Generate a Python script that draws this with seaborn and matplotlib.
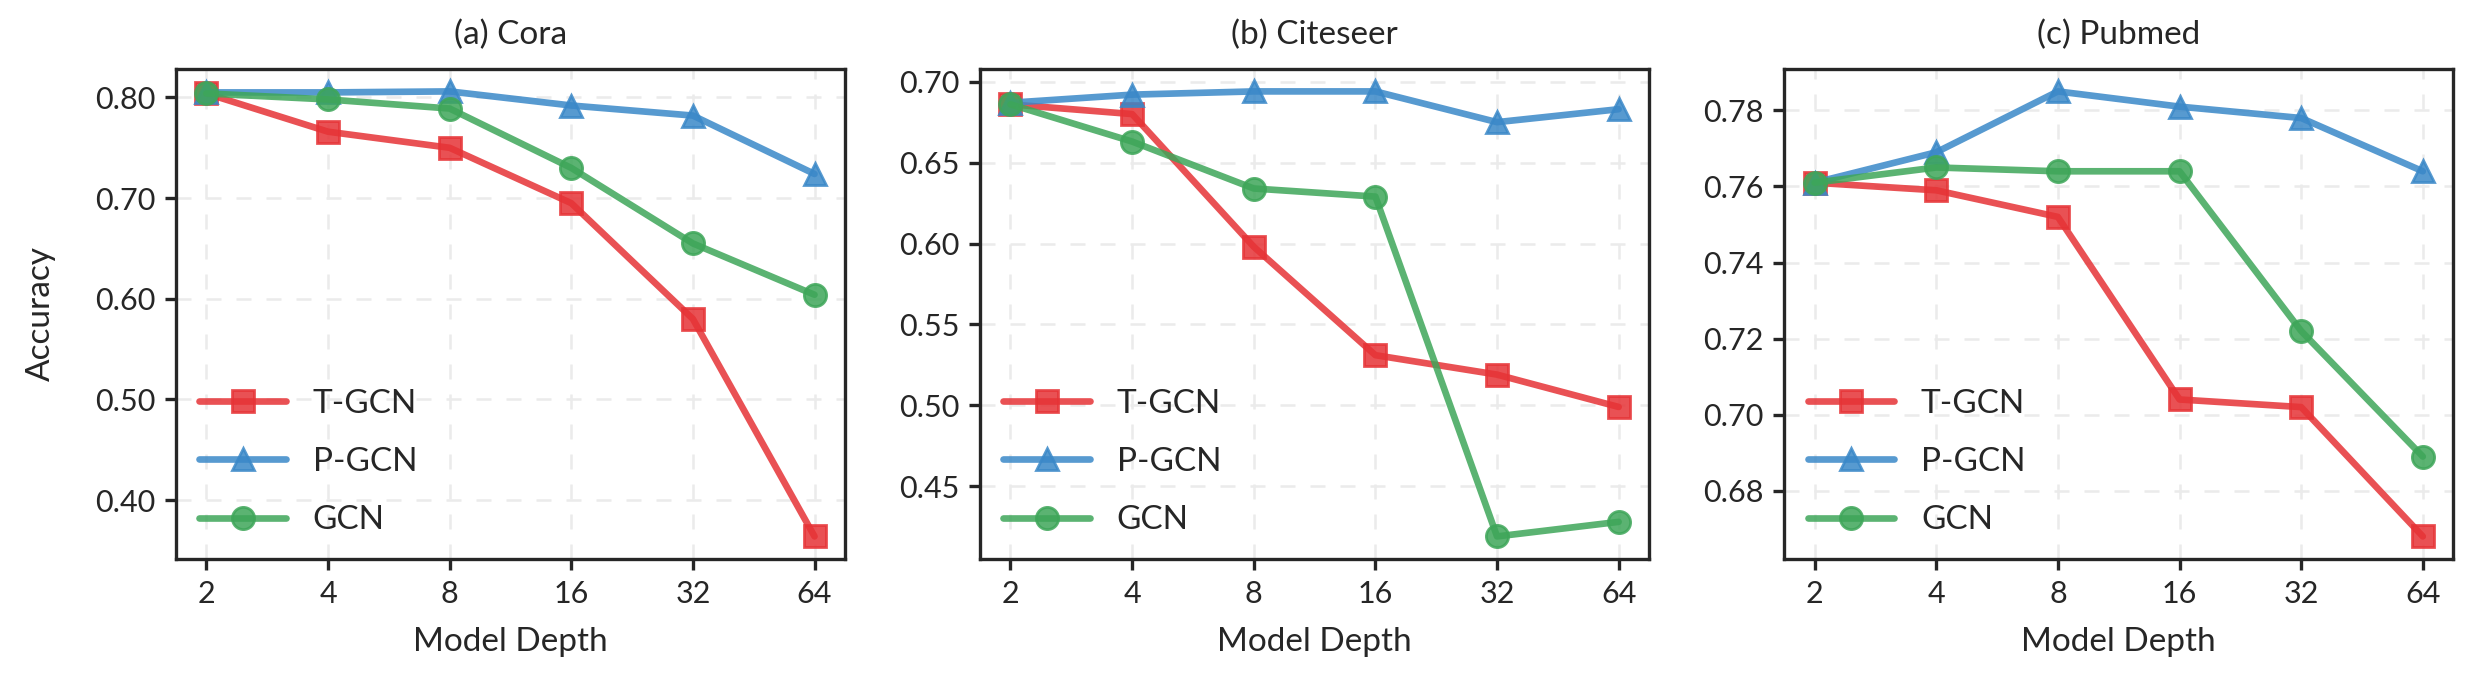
import pandas as pd
import matplotlib
matplotlib.use("Agg")
import matplotlib.pyplot as plt
import seaborn as sns

# model depths on x axis
depths = [2, 4, 8, 16, 32, 64]
methods = ["T-GCN", "P-GCN", "GCN"]

# accuracy
cora_tgcn = [0.804, 0.766, 0.750, 0.695, 0.580, 0.364]
cora_pgcn = [0.805, 0.805, 0.806, 0.792, 0.782, 0.724]
cora_gcn = [0.804, 0.798, 0.789, 0.730, 0.655, 0.604]

citeseer_tgcn = [0.686, 0.680, 0.598, 0.531, 0.519, 0.499]
citeseer_pgcn = [0.687, 0.692, 0.694, 0.694, 0.675, 0.683]
citeseer_gcn = [0.686, 0.663, 0.634, 0.629, 0.419, 0.428]

pubmed_tgcn = [0.761, 0.759, 0.752, 0.704, 0.702, 0.668]
pubmed_pgcn = [0.761, 0.769, 0.785, 0.781, 0.778, 0.764]
pubmed_gcn = [0.761, 0.765, 0.764, 0.764, 0.722, 0.689]

titles = ["(a) Cora", "(b) Citeseer", "(c) Pubmed"]
datasets = [
    (cora_tgcn, cora_pgcn, cora_gcn),
    (citeseer_tgcn, citeseer_pgcn, citeseer_gcn),
    (pubmed_tgcn, pubmed_pgcn, pubmed_gcn),
]
yticks = [
    [0.40, 0.50, 0.60, 0.70, 0.80],
    [0.45, 0.50, 0.55, 0.60, 0.65, 0.70],
    [0.68, 0.70, 0.72, 0.74, 0.76, 0.78],
]

colors = {"T-GCN": "#E63336", "P-GCN": "#3A88C8", "GCN": "#3EA659"}
markers = {"T-GCN": "s", "P-GCN": "^", "GCN": "o"}

sns.set_theme(style="ticks")
plt.rcParams["font.family"] = ["Lato", "DejaVu Sans"]
plt.rcParams["axes.linewidth"] = 1.2
plt.rcParams["xtick.major.width"] = 1.2
plt.rcParams["ytick.major.width"] = 1.2
plt.rcParams["xtick.major.size"] = 4
plt.rcParams["ytick.major.size"] = 4

fig, axes = plt.subplots(1, 3, figsize=(12.39, 3.39), dpi=200)
fig.subplots_adjust(left=0.071, right=0.990, top=0.898, bottom=0.176, wspace=0.202)

for ax, title, vals, yt in zip(axes, titles, datasets, yticks):
    rows = []
    for m, v in zip(methods, vals):
        for i, acc in enumerate(v):
            rows.append({"pos": i, "Accuracy": acc, "Method": m})
    df = pd.DataFrame(rows)
    for m in methods:
        sub = df[df["Method"] == m]
        sns.lineplot(data=sub, x="pos", y="Accuracy", ax=ax, label=m,
                     color=colors[m], marker=markers[m], markersize=8,
                     linewidth=2.4, alpha=0.85, markeredgecolor=colors[m],
                     markeredgewidth=1.0)
    ax.set_xticks(range(len(depths)))
    ax.set_xticklabels([str(d) for d in depths], fontsize=11)
    ax.set_yticks(yt)
    ax.set_yticklabels(["{:.2f}".format(t) for t in yt], fontsize=11)
    ax.grid(True, linestyle=(0, (6, 6)), color="#ebebeb", linewidth=0.9)
    ax.set_axisbelow(True)
    ax.set_title(title, fontsize=12, pad=9)
    ax.set_xlabel("Model Depth", fontsize=12, labelpad=7)
    ax.set_ylabel("")
    ax.legend(loc="lower left", frameon=False, fontsize=12,
              handlelength=2.6, labelspacing=0.85, borderaxespad=0.3)
    ax.margins(x=0.05, y=0.05)

axes[0].set_ylabel("Accuracy", fontsize=12, labelpad=14)

fig.savefig("out.png", dpi=200)
